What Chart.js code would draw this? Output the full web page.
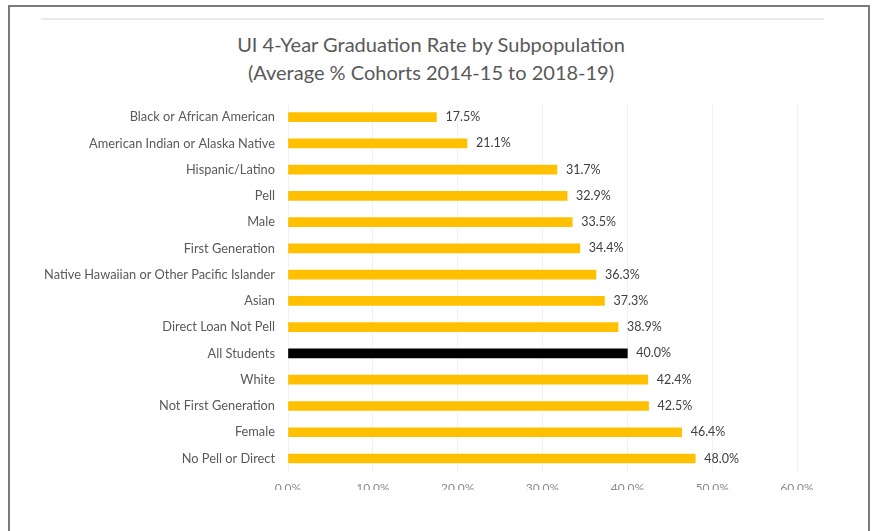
<!DOCTYPE html>
<html>
<head>
<meta charset="utf-8">
<title>UI 4-Year Graduation Rate by Subpopulation</title>
<script src="https://cdn.jsdelivr.net/npm/chart.js@4.4.0/dist/chart.umd.min.js"></script>
<style>
    body { margin: 0; background: #fff; width: 872px; height: 531px; overflow: hidden; position: relative; font-family: Lato, "Open Sans", sans-serif; }
    .frame { position: absolute; left: 8px; top: 5px; width: 858px; height: 560px; border: 2px solid #7a7a7a; border-bottom: none; }
    .rule { position: absolute; left: 41px; top: 18px; width: 783px; height: 2px; background: #e9e9e9; }
    .title { position: absolute; left: 0; width: 862px; text-align: center; color: #595959; font-size: 20px; }
    .plot { position: absolute; left: 0; top: 0; width: 872px; height: 490px; overflow: hidden; }
</style>
</head>
<body>
<div class="frame"></div>
<div class="rule"></div>
<div class="title" style="top: 32px;">UI 4-Year Graduation Rate by Subpopulation</div>
<div class="title" style="top: 60px;">(Average % Cohorts 2014-15 to 2018-19)</div>
<div class="plot"><canvas id="gradChart" width="872" height="531"></canvas></div>
<script>
var categories = [
    "Black or African American",
    "American Indian or Alaska Native",
    "Hispanic/Latino",
    "Pell",
    "Male",
    "First Generation",
    "Native Hawaiian or Other Pacific Islander",
    "Asian",
    "Direct Loan Not Pell",
    "All Students",
    "White",
    "Not First Generation",
    "Female",
    "No Pell or Direct"
];
var gradRates = [17.5, 21.1, 31.7, 32.9, 33.5, 34.4, 36.3, 37.3, 38.9, 40.0, 42.4, 42.5, 46.4, 48.0];
var xTicks = [0, 10, 20, 30, 40, 50, 60];
var highlighted = "All Students";

var barColors = categories.map(function(c) {
    return c === highlighted ? "#000000" : "#FFC000";
});

// value labels just past the end of each bar
var valueLabels = {
    id: 'valueLabels',
    afterDatasetsDraw: function(chart) {
        var ctx = chart.ctx;
        var meta = chart.getDatasetMeta(0);
        ctx.save();
        ctx.font = '12.5px Lato, "Open Sans", sans-serif';
        ctx.fillStyle = '#404040';
        ctx.textAlign = 'left';
        ctx.textBaseline = 'middle';
        meta.data.forEach(function(bar, i) {
            ctx.fillText(gradRates[i].toFixed(1) + '%', bar.x + 9, bar.y);
        });
        ctx.restore();
    }
};

var gradChart = new Chart(document.getElementById('gradChart').getContext('2d'), {
    type: 'bar',
    data: {
        labels: categories,
        datasets: [{
            label: 'Graduation rate',
            data: gradRates,
            backgroundColor: barColors,
            barThickness: 9
        }]
    },
    options: {
        indexAxis: 'y',
        responsive: false,
        animation: false,
        layout: { padding: { top: 104, right: 75, bottom: 27, left: 0 } },
        plugins: {
            legend: { display: false },
            tooltip: { enabled: false }
        },
        scales: {
            x: {
                min: 0,
                max: 60,
                afterBuildTicks: function(scale) {
                    scale.ticks = xTicks.map(function(v) { return { value: v }; });
                },
                grid: { color: '#f1f1f1', drawTicks: false },
                border: { display: false },
                ticks: {
                    padding: 9,
                    color: '#8a8a8a',
                    font: { family: 'Lato, "Open Sans", sans-serif', size: 12 },
                    callback: function(v) { return v.toFixed(1) + '%'; }
                }
            },
            y: {
                afterFit: function(scale) { scale.width = 288; },
                grid: { display: false, drawTicks: false },
                border: { display: false },
                ticks: {
                    padding: 13,
                    color: '#595959',
                    font: { family: 'Lato, "Open Sans", sans-serif', size: 12.8 }
                }
            }
        }
    },
    plugins: [valueLabels]
});
</script>
</body>
</html>
